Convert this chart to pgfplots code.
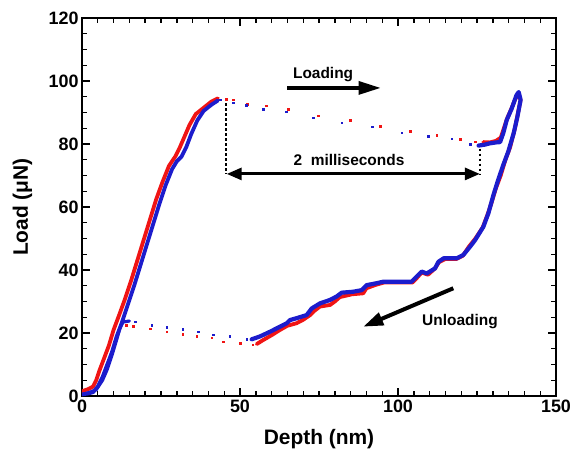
\documentclass[border=0pt]{standalone}
\usepackage{fontspec}
\setmainfont{Liberation Sans}
\usepackage{pgfplots}
\pgfplotsset{compat=1.18}
\usetikzlibrary{arrows.meta}
\definecolor{dataRed}{HTML}{F01414}
\definecolor{dataBlue}{HTML}{1C1CCC}

\begin{document}
\begin{tikzpicture}
\useasboundingbox (-82bp,-54bp) rectangle (494bp,396bp);
\begin{axis}[
    at={(0,0)}, anchor=south west,
    width=474bp, height=378bp, scale only axis,
    xmin=0, xmax=150, ymin=0, ymax=120,
    xtick={0,50,100,150}, ytick={0,20,...,120},
    minor x tick num=9, minor y tick num=3,
    major tick length=8bp, minor tick length=5bp,
    every tick/.style={black, line width=1.4bp},
    axis line style={line width=1.8bp},
    /pgf/number format/assume math mode=true,
    tick label style={font=\fontsize{18}{20}\selectfont\bfseries},
    xlabel={Depth (nm)}, ylabel={Load (μN)},
    every axis x label/.style={at={(axis description cs:0.5,0)}, yshift=-48bp, anchor=base,
        font=\fontsize{21}{24}\selectfont\bfseries},
    every axis y label/.style={at={(axis description cs:0,0.5)}, xshift=-54bp, rotate=90, anchor=base,
        font=\fontsize{21}{24}\selectfont\bfseries},
    dense/.style={line width=3.8bp, line join=round, line cap=round},
    sparse/.style={only marks, mark=square*, mark size=0.8bp},
]
% red: dense loading
\addplot[dataRed, dense] coordinates {
  (0,1.5) (2,2.2) (3.5,3) (4.5,5) (5.5,8) (7,12) (8.5,16) (10,21) (11.5,25)
  (13.5,30.5) (15.5,36.5) (17.5,43) (19.5,49.5) (21.5,56) (23.5,62.5)
  (25.5,68) (27.5,73) (29.5,76) (31,79) (32.5,82.5) (34,86) (36,89.5)
  (38.5,91.5) (41,93.5) (43,94.5)
};
% red: dense loop and unloading
\addplot[dataRed, dense] coordinates {
  (127,80.6) (129,80.5) (131,81) (132.5,82) (133.5,85) (134.5,88) (135.8,91)
  (137,94) (138,96) (138.8,94) (138,90) (137,85) (135.5,79) (134,75)
  (132.5,70) (131,66) (129.5,61) (128.3,57.5) (126.8,53.5) (124.5,50)
  (122.5,47.5) (120.5,44.5) (118.5,43.5) (115,43.5) (113,42.5) (111.7,40.5)
  (109.5,38.5) (107.5,39.2) (106,37.5) (104.5,36) (100,36) (95.5,36)
  (93,35.3) (90,34.2) (89,32.6) (85.5,32.3) (81.6,31.4) (80,30) (78.5,28.9)
  (75.3,28.4) (73.5,27) (72.2,25.7) (70,24.2) (67.9,23.1) (65,22.3)
  (62.7,21) (60,19.3) (57.4,17.8) (55.3,16.5)
};
% red: sparse points
\addplot[dataRed, sparse] coordinates {
  (45.6,94.2) (47.9,94) (52.3,92.7) (58.2,92.1) (65.3,91) (74.8,89)
  (84.8,87.6) (94.3,85.7) (103.8,84.1) (112.2,82.8) (119.6,81.5)
  (124.4,80.7)
  (54,16.3) (50,16.7) (44.7,17.2) (41,18.5) (36.3,19) (31.9,19.7)
  (26.8,20.4) (21.5,21.4) (16.2,22.2) (14,22.5)
};
% blue: dense loading
\addplot[dataBlue, dense] coordinates {
  (0,0.5) (2,0.8) (3.5,1.2) (5,3) (6.5,6) (8,10) (9.5,14) (11,19)
  (12.5,23) (14.5,29) (16.5,35) (18.5,41.5) (20.5,48) (22.5,54.5)
  (24.5,61) (26.5,67) (28.5,72) (30,74.5) (31.5,76) (33,79) (34.5,83)
  (36.5,87.5) (38.5,90.5) (41,92.5) (43,93.8)
};
% blue: dense loop and unloading
\addplot[dataBlue, dense, line width=4.2bp] coordinates {
  (125.5,79.5) (127.5,79.8) (129,80.2) (131,80.5) (132.3,80.6) (133.3,83.4)
  (134.4,87.6) (136,91.3) (137.5,95.5) (138.2,96.5) (138.8,94) (137.8,88.7)
  (136.6,83.4) (134.9,77.6) (133.3,73.3) (131.7,68.6) (130.2,63.8)
  (128.6,58) (127,53.7) (124.4,49.5) (122.8,47.4) (120.7,44.8)
  (118.6,43.7) (114.4,43.7) (112.8,42.6) (111.7,40.5) (109.1,38.9)
  (107.5,39.5) (105.9,37.9) (104.3,36.3) (99.6,36.3) (95.4,36.3)
  (93.2,35.8) (90.1,35.2) (88.5,33.6) (85.8,33.1) (82.2,32.8) (80.6,31.6)
  (78.5,30.5) (75.3,29.4) (72.7,27.8) (71.1,25.7) (67.9,24.7) (65.8,24.1)
  (64.8,23.1) (59.5,20.4) (56.3,18.9) (53.7,18)
};
% blue: lower end of unloading
\addplot[dataBlue, dense, line width=3.2bp] coordinates {
  (15,23.8) (13,23.5) (12,21.5) (11,18) (9.5,13) (8,8.5) (6.5,5) (4.5,2) (2.5,1.2) (0.5,0.6)
};
% blue: sparse points
\addplot[dataBlue, sparse] coordinates {
  (43.7,94) (47.9,93.1) (52,92.3) (57.4,91) (64.6,90.2) (73.1,88.4)
  (82.2,86.8) (91.8,85.5) (101.2,83.6) (109.6,82.5) (117,81.7)
  (122.8,79.9)
  (52.1,18) (46.8,18.9) (41.6,19.4) (36.8,20.4) (31.9,21.2) (26.8,21.8)
  (22,22.5) (16.8,23.6)
};
% annotations
\node[anchor=base, font=\fontsize{15.5}{17}\selectfont\bfseries] at (axis cs:76.3,100.8) {Loading};
\draw[line width=3.2bp, -{Triangle[length=22bp,width=13bp]}] (axis cs:65,97.8) -- (axis cs:94.5,97.8);
\node[anchor=base, font=\fontsize{15.5}{17}\selectfont\bfseries] at (axis cs:84.5,73.3) {2\ \ milliseconds};
\draw[line width=3bp, {Triangle[length=15bp,width=12bp]}-{Triangle[length=15bp,width=12bp]}] (axis cs:45.8,70.5) -- (axis cs:125.9,70.5);
\draw[line width=1.8bp, dash pattern=on 2.5bp off 2.5bp] (axis cs:45.6,93) -- (axis cs:45.6,70.5);
\draw[line width=1.8bp, dash pattern=on 2.5bp off 2.5bp] (axis cs:125.9,78.5) -- (axis cs:125.9,70.5);
\node[anchor=base, font=\fontsize{15.5}{17}\selectfont\bfseries] at (axis cs:119.6,22.5) {Unloading};
\draw[line width=4bp, -{Triangle[length=20bp,width=13bp]}] (axis cs:117.5,34.2) -- (axis cs:89,22);
\end{axis}
\end{tikzpicture}
\end{document}
